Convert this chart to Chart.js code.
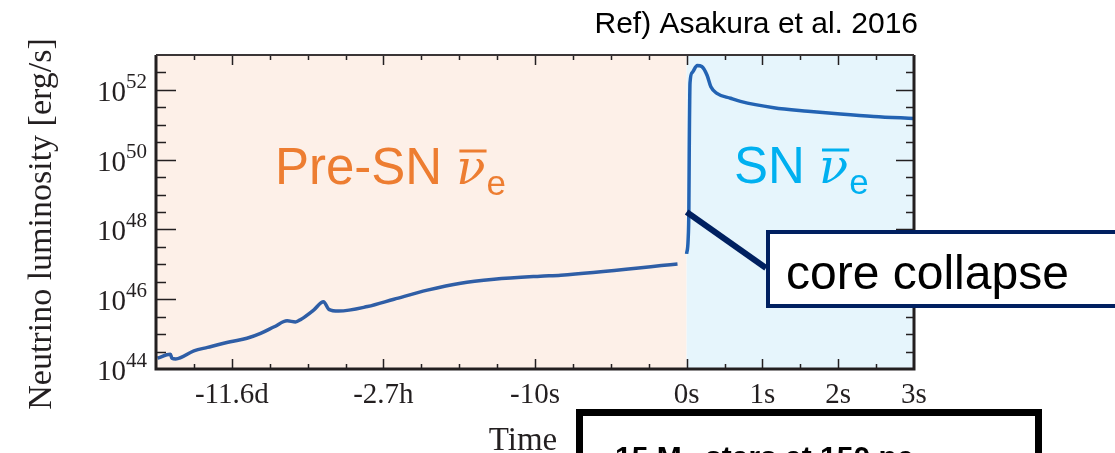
<!DOCTYPE html>
<html lang="en">
<head>
    <meta charset="UTF-8">
    <title>Neutrino luminosity</title>
    <script src="https://cdn.jsdelivr.net/npm/chart.js"></script>
    <style>
        body {
            margin: 0;
            background: #ffffff;
        }
        .wrap {
            width: 1115px;
            height: 453px;
            position: relative;
        }
    </style>
</head>
<body>
    <div class="wrap">
        <canvas id="lumChart"></canvas>
    </div>

    <script>
        // pre-SN curve: x is position on the compressed time axis (-6 = -11.6d, -4 = -2.7h, -2 = -10s, 0 = collapse)
        const preT = [-6.98, -6.81, -6.79, -6.74, -6.50, -6.32, -6.02, -5.80, -5.62, -5.44, -5.27, -5.16, -5.09,
                      -4.92, -4.79, -4.72, -4.59, -4.21, -3.86, -3.42, -2.98, -2.54, -1.93, -1.66, -0.12];
        const preLogL = [44.31, 44.42, 44.31, 44.29, 44.52, 44.62, 44.78, 44.88, 45.02, 45.21, 45.38, 45.35, 45.42,
                         45.69, 45.93, 45.71, 45.66, 45.79, 46.00, 46.26, 46.46, 46.57, 46.66, 46.69, 47.01];

        // SN curve: seconds after core collapse
        const snT = [0, 0.02, 0.03, 0.035, 0.045, 0.075, 0.14, 0.2, 0.27, 0.32, 0.40, 0.58, 0.71, 1.15, 1.60, 2.03, 2.47, 3.0];
        const snLogL = [47.3, 47.7, 48.6, 50.3, 52.2, 52.5, 52.7, 52.67, 52.42, 52.09, 51.9, 51.76, 51.67, 51.49, 51.39, 51.31, 51.24, 51.18];

        const xTickValues = [-6, -4, -2, 0, 1, 2, 3];
        const xTickLabels = ["-11.6d", "-2.7h", "-10s", "0s", "1s", "2s", "3s"];
        const yTickExponents = [44, 46, 48, 50, 52];

        const serif = '"Liberation Serif", "Times New Roman", serif';
        const sans = '"Liberation Sans", Arial, sans-serif';

        function toPoints(xs, logs) {
            return xs.map((x, i) => ({ x: x, y: Math.pow(10, logs[i]) }));
        }

        const framePlugin = {
            id: "frame",
            beforeDatasetsDraw(chart) {
                const ctx = chart.ctx;
                const a = chart.chartArea;
                const xs = chart.scales.x;
                const x0 = xs.getPixelForValue(0);
                ctx.save();
                ctx.fillStyle = "#fdf0e8";
                ctx.fillRect(a.left, a.top, x0 - a.left, a.bottom - a.top);
                ctx.fillStyle = "#e6f5fc";
                ctx.fillRect(x0, a.top, a.right - x0, a.bottom - a.top);
                ctx.restore();
            },
            afterDatasetsDraw(chart) {
                const ctx = chart.ctx;
                const a = chart.chartArea;
                const xs = chart.scales.x;
                const ys = chart.scales.y;
                ctx.save();

                // tick marks, pointing inward on all four sides
                ctx.strokeStyle = "#231f20";
                ctx.lineWidth = 1.5;
                for (let v = -6.5; v < 3; v += 0.5) {
                    const px = Math.round(xs.getPixelForValue(v)) + 0.5;
                    const len = xTickValues.includes(v) ? 10 : 5;
                    ctx.beginPath();
                    ctx.moveTo(px, a.bottom); ctx.lineTo(px, a.bottom - len);
                    ctx.moveTo(px, a.top); ctx.lineTo(px, a.top + len);
                    ctx.stroke();
                }
                for (let e = 44.5; e < 53; e += 0.5) {
                    const py = Math.round(ys.getPixelForValue(Math.pow(10, e))) + 0.5;
                    const major = yTickExponents.includes(e);
                    ctx.beginPath();
                    ctx.moveTo(a.left, py); ctx.lineTo(a.left + (major ? 20 : 10), py);
                    ctx.moveTo(a.right, py); ctx.lineTo(a.right - (major ? 18 : 8), py);
                    ctx.stroke();
                }

                // frame
                ctx.lineWidth = 3;
                ctx.beginPath();
                ctx.moveTo(a.left, a.top); ctx.lineTo(a.left, a.bottom);
                ctx.lineTo(a.right, a.bottom); ctx.lineTo(a.right, a.top);
                ctx.stroke();
                ctx.lineWidth = 2;
                ctx.strokeStyle = "#3a3536";
                ctx.beginPath();
                ctx.moveTo(a.left, a.top); ctx.lineTo(a.right, a.top);
                ctx.stroke();

                // x tick labels
                ctx.fillStyle = "#231f20";
                ctx.font = "29px " + serif;
                ctx.textAlign = "center";
                ctx.textBaseline = "alphabetic";
                xTickValues.forEach((v, i) => {
                    ctx.fillText(xTickLabels[i], xs.getPixelForValue(v), 403);
                });

                // y tick labels 10^n
                yTickExponents.forEach(e => {
                    const py = ys.getPixelForValue(Math.pow(10, e));
                    ctx.textAlign = "right";
                    ctx.font = "21px " + serif;
                    const sup = String(e);
                    const supW = ctx.measureText(sup).width;
                    ctx.fillText(sup, 147, py - 2);
                    ctx.font = "29px " + serif;
                    ctx.fillText("10", 147 - supW, py + 11);
                });

                // axis titles
                ctx.font = "33px " + serif;
                ctx.textAlign = "center";
                ctx.fillText("Time", 523, 450);
                ctx.save();
                ctx.translate(51, 224);
                ctx.rotate(-Math.PI / 2);
                ctx.font = "34px " + serif;
                ctx.fillText("Neutrino luminosity [erg/s]", 0, 0);
                ctx.restore();

                // region labels
                drawNuLabel(ctx, "Pre-SN", "#ed7d31", 275, 184);
                drawNuLabel(ctx, "SN", "#00b0f0", 734, 183);

                // core collapse callout
                const cx = xs.getPixelForValue(0);
                const cy = ys.getPixelForValue(Math.pow(10, 48.5));
                ctx.strokeStyle = "#002060";
                ctx.lineWidth = 6;
                ctx.beginPath();
                ctx.moveTo(cx, cy);
                ctx.lineTo(766, 268);
                ctx.stroke();
                ctx.fillStyle = "#ffffff";
                ctx.fillRect(767, 231, 360, 75);
                ctx.lineWidth = 4;
                ctx.strokeRect(768, 232, 360, 74);
                ctx.fillStyle = "#000000";
                ctx.textAlign = "left";
                ctx.font = "48px " + sans;
                ctx.fillText("core collapse", 786, 289);

                // reference note
                ctx.textAlign = "right";
                ctx.font = "30px " + sans;
                ctx.fillText("Ref) Asakura et al. 2016", 918, 33);

                // bottom box (cut off by the page edge)
                ctx.fillStyle = "#ffffff";
                ctx.fillRect(580, 413, 458, 60);
                ctx.strokeStyle = "#000000";
                ctx.lineWidth = 7;
                ctx.strokeRect(579.5, 412.5, 459, 80);
                ctx.fillStyle = "#000000";
                ctx.textAlign = "left";
                ctx.font = "bold 30px " + sans;
                ctx.fillText("15 M", 615, 467);
                let w = ctx.measureText("15 M").width;
                ctx.font = "bold 18px " + sans;
                ctx.fillText("\u2299", 615 + w, 474);
                const w2 = ctx.measureText("\u2299").width;
                ctx.font = "bold 30px " + sans;
                ctx.fillText(" stars at 150 pc", 615 + w + w2, 467);

                ctx.restore();
            }
        };

        function drawNuLabel(ctx, word, color, x, baseline) {
            ctx.fillStyle = color;
            ctx.strokeStyle = color;
            ctx.textAlign = "left";
            ctx.font = "51px " + sans;
            ctx.fillText(word, x, baseline);
            let px = x + ctx.measureText(word + " ").width;
            ctx.font = "italic 48px \"DejaVu Serif\", serif";
            ctx.fillText("\u03bd", px, baseline);
            const nuW = ctx.measureText("\u03bd").width;
            ctx.lineWidth = 3;
            ctx.beginPath();
            ctx.moveTo(px + 3, baseline - 33);
            ctx.lineTo(px + nuW + 1, baseline - 33);
            ctx.stroke();
            ctx.font = "35px " + sans;
            ctx.fillText("e", px + nuW + 1, baseline + 11);
        }

        new Chart(document.getElementById("lumChart"), {
            type: "line",
            data: {
                datasets: [
                    {
                        label: "Pre-SN",
                        data: toPoints(preT, preLogL),
                        borderColor: "#2f5ea6",
                        borderWidth: 3.5,
                        pointRadius: 0,
                        cubicInterpolationMode: "monotone"
                    },
                    {
                        label: "SN",
                        data: toPoints(snT, snLogL),
                        borderColor: "#2363b3",
                        borderWidth: 3.5,
                        pointRadius: 0,
                        cubicInterpolationMode: "monotone"
                    }
                ]
            },
            options: {
                responsive: true,
                maintainAspectRatio: false,
                animation: false,
                devicePixelRatio: 1,
                layout: {
                    padding: { left: 156, right: 201, top: 55, bottom: 84 }
                },
                plugins: {
                    legend: { display: false },
                    tooltip: { enabled: false }
                },
                scales: {
                    x: { type: "linear", min: -7, max: 3, display: false },
                    y: { type: "logarithmic", min: 1e44, max: 1e53, display: false }
                }
            },
            plugins: [framePlugin]
        });
    </script>
</body>
</html>
